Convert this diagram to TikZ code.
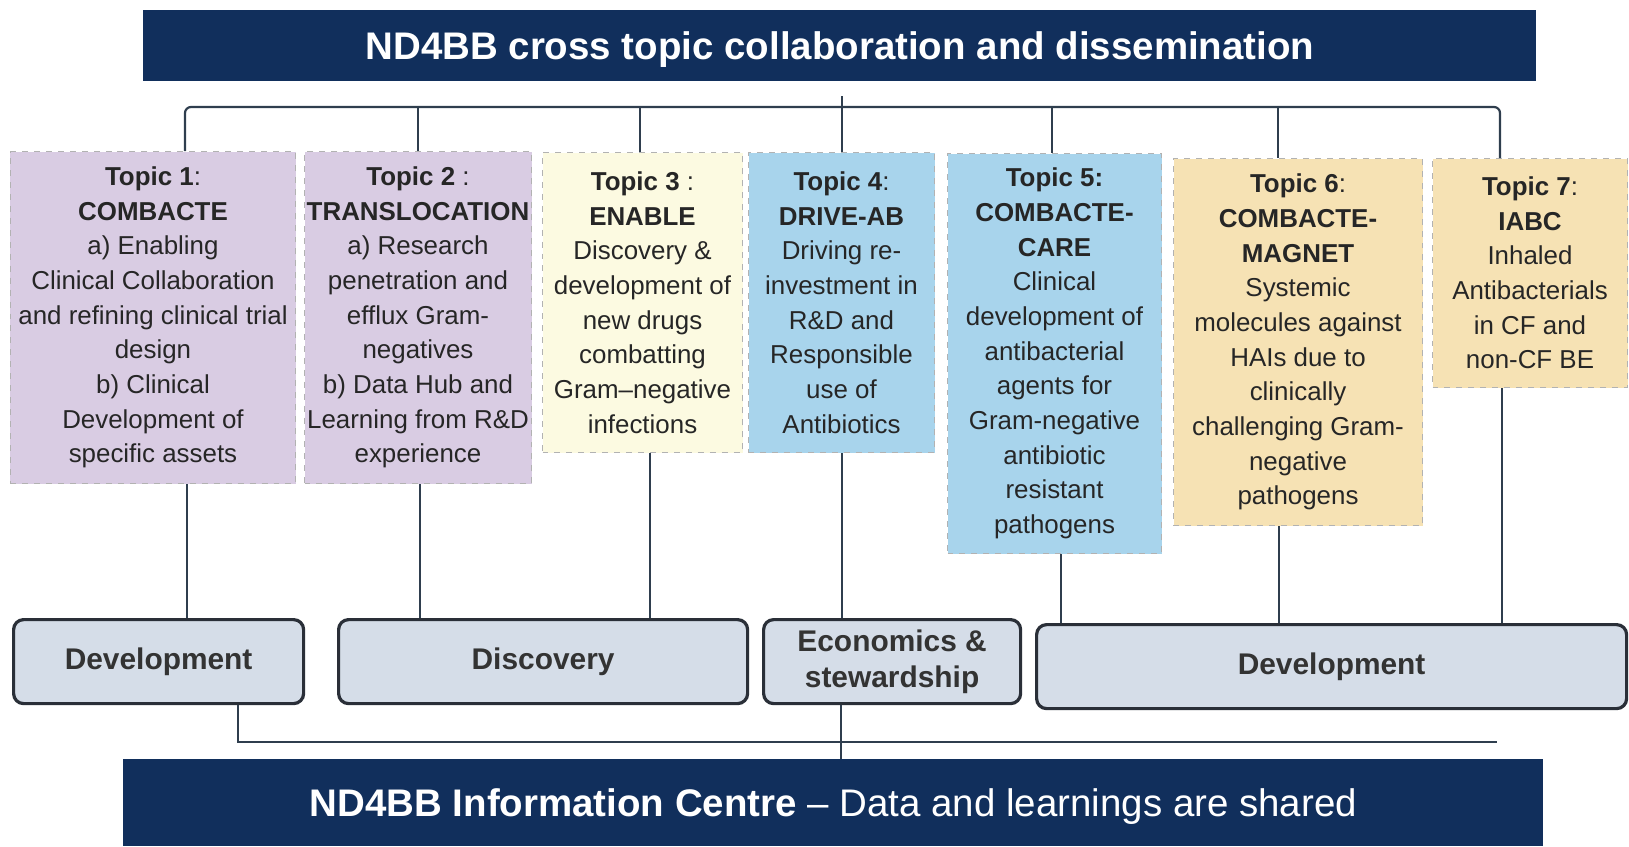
\documentclass[tikz,border=0pt]{standalone}
\usepackage{fontspec}
\setmainfont{Liberation Sans}
\usetikzlibrary{positioning}

\definecolor{navy}{HTML}{112F5C}
\definecolor{linecol}{HTML}{2F3E4E}
\definecolor{lavender}{HTML}{D9CCE3}
\definecolor{cream}{HTML}{FCFAE1}
\definecolor{skyblue}{HTML}{A8D4EC}
\definecolor{tan}{HTML}{F6E2B4}
\definecolor{areafill}{HTML}{D5DDE8}
\definecolor{arealine}{HTML}{2A2F38}

\begin{document}
\begin{tikzpicture}[x=0.5bp, y=-0.5bp,
    banner/.style={fill=navy, text=white, inner sep=0pt, anchor=north west, text depth=0pt,
        font=\fontsize{19.3}{23}\selectfont},
    topic/.style={draw=gray!60, dashed, line width=0.5pt, inner sep=0pt, align=center, anchor=north west,
        text=black!85, font=\fontsize{13}{17.4}\selectfont},
    area/.style={draw=arealine, line width=1.6bp, rounded corners=5bp, fill=areafill, inner sep=0pt,
        align=center, anchor=north west, text=black!80, minimum height=42bp, font=\bfseries\fontsize{15}{18}\selectfont},
    link/.style={draw=linecol, line width=1.1bp}]
    \useasboundingbox (0,0) rectangle (1629,846);

    % Bandeaux haut et bas
    \node[banner, minimum width=696.5bp, minimum height=35.5bp] (top) at (143,10)
        {\textbf{ND4BB cross topic collaboration and dissemination}};
    \node[banner, minimum width=710bp, minimum height=43.5bp] (info) at (123,759)
        {\textbf{ND4BB Information Centre} -- Data and learnings are shared};

    % Les sept topics
    \node[topic, fill=lavender, minimum width=142.5bp, minimum height=166bp] (t1) at (10,151)
        {\textbf{Topic 1}:\\ \textbf{COMBACTE}\\ a) Enabling\\ Clinical Collaboration\\ and refining clinical trial\\ design\\ b) Clinical\\ Development of\\ specific assets};
    \node[topic, fill=lavender, minimum width=113.5bp, minimum height=166bp] (t2) at (304,151)
        {\textbf{Topic 2} :\\ \textbf{TRANSLOCATION}\\ a) Research\\ penetration and\\ efflux Gram-\\ negatives\\ b) Data Hub and\\ Learning from R\&D\\ experience};
    \node[topic, fill=cream, minimum width=100bp, minimum height=150bp] (t3) at (542,152)
        {\textbf{Topic 3} :\\ \textbf{ENABLE}\\ Discovery \&\\ development of\\ new drugs\\ combatting\\ Gram--negative\\ infections};
    \node[topic, fill=skyblue, minimum width=93bp, minimum height=150bp] (t4) at (748,152)
        {\textbf{Topic 4}:\\ \textbf{DRIVE-AB}\\ Driving re-\\ investment in\\ R\&D and\\ Responsible\\ use of\\ Antibiotics};
    \node[topic, fill=skyblue, minimum width=107bp, minimum height=200bp] (t5) at (947,153)
        {\textbf{Topic 5:}\\ \textbf{COMBACTE-}\\ \textbf{CARE}\\ Clinical\\ development of\\ antibacterial\\ agents for\\ Gram-negative\\ antibiotic\\ resistant\\ pathogens};
    \node[topic, fill=tan, minimum width=124.5bp, minimum height=183.5bp] (t6) at (1173,158)
        {\textbf{Topic 6}:\\ \textbf{COMBACTE-}\\ \textbf{MAGNET}\\ Systemic\\ molecules against\\ HAIs due to\\ clinically\\ challenging Gram-\\ negative\\ pathogens};
    \node[topic, fill=tan, minimum width=97.5bp, minimum height=114.5bp] (t7) at (1432,158)
        {\textbf{Topic 7}:\\ \textbf{IABC}\\ Inhaled\\ Antibacterials\\ in CF and\\ non-CF BE};

    % Domaines
    \node[area, minimum width=145bp] (dev) at (12,618) {Development};
    \node[area, minimum width=204.5bp] (disc) at (337,618) {Discovery};
    \node[area, minimum width=128.5bp] (econ) at (762,618) {Economics \&\\ stewardship};
    \node[area, minimum width=295bp] (devb) at (1035,623) {Development};

    % Liaisons du haut
    \coordinate (hub) at (842,96);
    \draw[link, rounded corners=3bp] (t1.north -| 185,0) |- (1500,107) -- (t7.north -| 1500,0);
    \foreach \n/\x in {t2/418, t3/640, t5/1052, t6/1278}
        \draw[link] (\x,107) -- (\n.north -| \x,0);
    \draw[link] (hub) -- (t4.north -| hub);

    % Liaisons vers les domaines
    \foreach \a/\b/\x in {t1/dev/187, t2/disc/420, t3/disc/650, t4/econ/842, t5/devb/1061, t6/devb/1279, t7/devb/1502}
        \draw[link] (\a.south -| \x,0) -- (\b.north -| \x,0);

    % Liaisons du bas
    \coordinate (busend) at (1497,742);
    \draw[link] (dev.south -| 238,0) |- (busend);
    \draw[link] (econ.south -| 841,0) -- (info.north -| 841,0);
\end{tikzpicture}
\end{document}
